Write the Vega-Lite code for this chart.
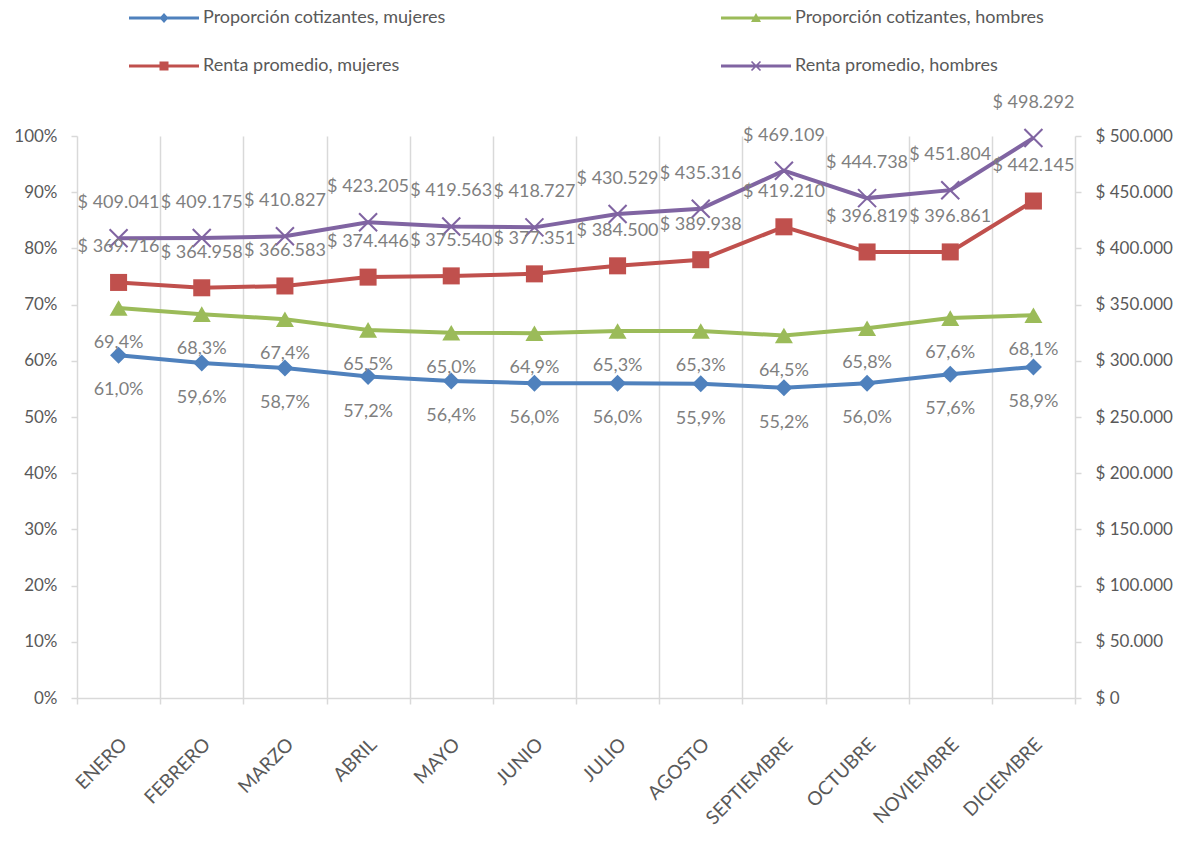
{
  "$schema": "https://vega.github.io/schema/vega-lite/v6.json",
  "width": 998,
  "height": 562,
  "autosize": {"type": "none"},
  "padding": {"left": 77, "top": 136, "right": 116, "bottom": 146},
  "background": "white",
  "config": {
    "locale": {"number": {"decimal": ",", "thousands": ".", "grouping": [3], "currency": ["$ ", ""]}},
    "view": {"stroke": null},
    "font": "Lato",
    "axis": {"labelFont": "Lato", "labelColor": "#595959", "title": null}
  },
  "datasets": {
    "prop": [
      {"mes": "ENERO", "serie": "Proporción cotizantes, mujeres", "valor": 0.610},
      {"mes": "FEBRERO", "serie": "Proporción cotizantes, mujeres", "valor": 0.596},
      {"mes": "MARZO", "serie": "Proporción cotizantes, mujeres", "valor": 0.587},
      {"mes": "ABRIL", "serie": "Proporción cotizantes, mujeres", "valor": 0.572},
      {"mes": "MAYO", "serie": "Proporción cotizantes, mujeres", "valor": 0.564},
      {"mes": "JUNIO", "serie": "Proporción cotizantes, mujeres", "valor": 0.560},
      {"mes": "JULIO", "serie": "Proporción cotizantes, mujeres", "valor": 0.560},
      {"mes": "AGOSTO", "serie": "Proporción cotizantes, mujeres", "valor": 0.559},
      {"mes": "SEPTIEMBRE", "serie": "Proporción cotizantes, mujeres", "valor": 0.552},
      {"mes": "OCTUBRE", "serie": "Proporción cotizantes, mujeres", "valor": 0.560},
      {"mes": "NOVIEMBRE", "serie": "Proporción cotizantes, mujeres", "valor": 0.576},
      {"mes": "DICIEMBRE", "serie": "Proporción cotizantes, mujeres", "valor": 0.589},
      {"mes": "ENERO", "serie": "Proporción cotizantes, hombres", "valor": 0.694},
      {"mes": "FEBRERO", "serie": "Proporción cotizantes, hombres", "valor": 0.683},
      {"mes": "MARZO", "serie": "Proporción cotizantes, hombres", "valor": 0.674},
      {"mes": "ABRIL", "serie": "Proporción cotizantes, hombres", "valor": 0.655},
      {"mes": "MAYO", "serie": "Proporción cotizantes, hombres", "valor": 0.650},
      {"mes": "JUNIO", "serie": "Proporción cotizantes, hombres", "valor": 0.649},
      {"mes": "JULIO", "serie": "Proporción cotizantes, hombres", "valor": 0.653},
      {"mes": "AGOSTO", "serie": "Proporción cotizantes, hombres", "valor": 0.653},
      {"mes": "SEPTIEMBRE", "serie": "Proporción cotizantes, hombres", "valor": 0.645},
      {"mes": "OCTUBRE", "serie": "Proporción cotizantes, hombres", "valor": 0.658},
      {"mes": "NOVIEMBRE", "serie": "Proporción cotizantes, hombres", "valor": 0.676},
      {"mes": "DICIEMBRE", "serie": "Proporción cotizantes, hombres", "valor": 0.681}
    ],
    "renta": [
      {"mes": "ENERO", "serie": "Renta promedio, mujeres", "valor": 369716},
      {"mes": "FEBRERO", "serie": "Renta promedio, mujeres", "valor": 364958},
      {"mes": "MARZO", "serie": "Renta promedio, mujeres", "valor": 366583},
      {"mes": "ABRIL", "serie": "Renta promedio, mujeres", "valor": 374446},
      {"mes": "MAYO", "serie": "Renta promedio, mujeres", "valor": 375540},
      {"mes": "JUNIO", "serie": "Renta promedio, mujeres", "valor": 377351},
      {"mes": "JULIO", "serie": "Renta promedio, mujeres", "valor": 384500},
      {"mes": "AGOSTO", "serie": "Renta promedio, mujeres", "valor": 389938},
      {"mes": "SEPTIEMBRE", "serie": "Renta promedio, mujeres", "valor": 419210},
      {"mes": "OCTUBRE", "serie": "Renta promedio, mujeres", "valor": 396819},
      {"mes": "NOVIEMBRE", "serie": "Renta promedio, mujeres", "valor": 396861},
      {"mes": "DICIEMBRE", "serie": "Renta promedio, mujeres", "valor": 442145},
      {"mes": "ENERO", "serie": "Renta promedio, hombres", "valor": 409041},
      {"mes": "FEBRERO", "serie": "Renta promedio, hombres", "valor": 409175},
      {"mes": "MARZO", "serie": "Renta promedio, hombres", "valor": 410827},
      {"mes": "ABRIL", "serie": "Renta promedio, hombres", "valor": 423205},
      {"mes": "MAYO", "serie": "Renta promedio, hombres", "valor": 419563},
      {"mes": "JUNIO", "serie": "Renta promedio, hombres", "valor": 418727},
      {"mes": "JULIO", "serie": "Renta promedio, hombres", "valor": 430529},
      {"mes": "AGOSTO", "serie": "Renta promedio, hombres", "valor": 435316},
      {"mes": "SEPTIEMBRE", "serie": "Renta promedio, hombres", "valor": 469109},
      {"mes": "OCTUBRE", "serie": "Renta promedio, hombres", "valor": 444738},
      {"mes": "NOVIEMBRE", "serie": "Renta promedio, hombres", "valor": 451804},
      {"mes": "DICIEMBRE", "serie": "Renta promedio, hombres", "valor": 498292}
    ]
  },
  "encoding": {
    "x": {
      "field": "mes",
      "type": "nominal",
      "sort": ["ENERO", "FEBRERO", "MARZO", "ABRIL", "MAYO", "JUNIO", "JULIO", "AGOSTO", "SEPTIEMBRE", "OCTUBRE", "NOVIEMBRE", "DICIEMBRE"],
      "scale": {"type": "band", "paddingInner": 0, "paddingOuter": 0},
      "axis": {
        "tickBand": "extent",
        "grid": true,
        "gridColor": "#D9D9D9",
        "gridWidth": 1.5,
        "domainColor": "#D9D9D9",
        "domainWidth": 1.5,
        "tickColor": "#D9D9D9",
        "tickWidth": 1.5,
        "tickSize": 6,
        "labelAngle": -45,
        "labelAlign": "right",
        "labelBaseline": "middle",
        "labelPadding": 37,
        "labelOffset": 5,
        "labelFontSize": 19,
        "labelColor": "#595959",
        "title": null
      }
    },
    "color": {
      "field": "serie",
      "type": "nominal",
      "scale": {
        "domain": ["Proporción cotizantes, mujeres", "Proporción cotizantes, hombres", "Renta promedio, mujeres", "Renta promedio, hombres"],
        "range": ["#4F81BD", "#9BBB59", "#C0504D", "#8064A2"]
      },
      "legend": {
        "title": null,
        "orient": "none",
        "legendX": 77,
        "legendY": -128,
        "direction": "horizontal",
        "columns": 2,
        "columnPadding": 275,
        "rowPadding": 29,
        "padding": 0,
        "labelFontSize": 18,
        "labelColor": "#595959",
        "labelFont": "Lato",
        "labelOffset": 29,
        "labelLimit": 500,
        "symbolSize": 400,
        "encode": {
          "symbols": {
            "update": {
              "shape": {"signal": "datum.value === 'Proporción cotizantes, mujeres' ? 'M-3.5,-0.15H3.5V0.15H-3.5Z M0,-0.5L0.45,0L0,0.5L-0.45,0Z' : datum.value === 'Proporción cotizantes, hombres' ? 'M-3.5,-0.15H3.5V0.15H-3.5Z M0,-0.5L0.5,0.4L-0.5,0.4Z' : datum.value === 'Renta promedio, mujeres' ? 'M-3.5,-0.15H3.5V0.15H-3.5Z M-0.45,-0.45H0.45V0.45H-0.45Z' : 'M-3.5,-0.15H3.5V0.15H-3.5Z M-0.39,-0.51L0.51,0.39L0.39,0.51L-0.51,-0.39Z M-0.51,0.39L0.39,-0.51L0.51,-0.39L-0.39,0.51Z'"},
              "fill": {"signal": "scale('color', datum.value)"},
              "stroke": {"value": "transparent"},
              "strokeWidth": {"value": 0},
              "opacity": {"value": 1},
              "fillOpacity": {"value": 1},
              "size": {"value": 400}
            }
          }
        }
      }
    }
  },
  "layer": [
    {
      "data": {"name": "prop"},
      "encoding": {
        "y": {
          "field": "valor",
          "type": "quantitative",
          "scale": {"domain": [0, 1], "nice": false, "zero": true},
          "axis": {
            "orient": "left",
            "values": [0, 0.1, 0.2, 0.3, 0.4, 0.5, 0.6, 0.7, 0.8, 0.9, 1],
            "format": ".0%",
            "grid": false,
            "domain": false,
            "ticks": true,
            "tickSize": 6,
            "tickColor": "#D9D9D9",
            "tickWidth": 1.5,
            "labelPadding": 14,
            "labelFontSize": 17,
            "labelColor": "#595959",
            "title": null
          }
        }
      },
      "layer": [
        {"mark": {"type": "line", "strokeWidth": 4}},
        {
          "transform": [{"filter": "datum.serie === 'Proporción cotizantes, mujeres'"}],
          "mark": {"type": "point", "filled": true, "opacity": 1, "size": 290, "shape": "diamond"}
        },
        {
          "transform": [{"filter": "datum.serie === 'Proporción cotizantes, hombres'"}],
          "mark": {"type": "point", "filled": true, "opacity": 1, "size": 324, "shape": "triangle-up"}
        },
        {
          "mark": {"type": "text", "dy": 35, "fontSize": 18, "font": "Lato", "color": "#7F7F7F"},
          "encoding": {"text": {"field": "valor", "type": "quantitative", "format": ".1%"}, "color": {"value": "#7F7F7F"}}
        }
      ]
    },
    {
      "data": {"name": "renta"},
      "encoding": {
        "y": {
          "field": "valor",
          "type": "quantitative",
          "scale": {"domain": [0, 500000], "nice": false, "zero": true},
          "axis": {
            "orient": "right",
            "values": [0, 50000, 100000, 150000, 200000, 250000, 300000, 350000, 400000, 450000, 500000],
            "format": "$,.0f",
            "grid": false,
            "domain": false,
            "ticks": true,
            "tickSize": 6,
            "tickColor": "#D9D9D9",
            "tickWidth": 1.5,
            "labelPadding": 14,
            "labelFontSize": 17,
            "labelColor": "#595959",
            "title": null
          }
        }
      },
      "layer": [
        {"mark": {"type": "line", "strokeWidth": 4}},
        {
          "transform": [{"filter": "datum.serie === 'Renta promedio, mujeres'"}],
          "mark": {"type": "point", "filled": true, "opacity": 1, "size": 290, "shape": "square"}
        },
        {
          "transform": [{"filter": "datum.serie === 'Renta promedio, hombres'"}],
          "mark": {"type": "point", "filled": true, "opacity": 1, "size": 324, "shape": "M-0.92,-1.08L1.08,0.92L0.92,1.08L-1.08,-0.92Z M-1.08,0.92L0.92,-1.08L1.08,-0.92L-0.92,1.08Z"}
        },
        {
          "mark": {"type": "text", "dy": -35, "fontSize": 18, "font": "Lato", "color": "#7F7F7F"},
          "encoding": {"text": {"field": "valor", "type": "quantitative", "format": "$,.0f"}, "color": {"value": "#7F7F7F"}}
        }
      ]
    }
  ],
  "resolve": {"scale": {"y": "independent"}}
}
